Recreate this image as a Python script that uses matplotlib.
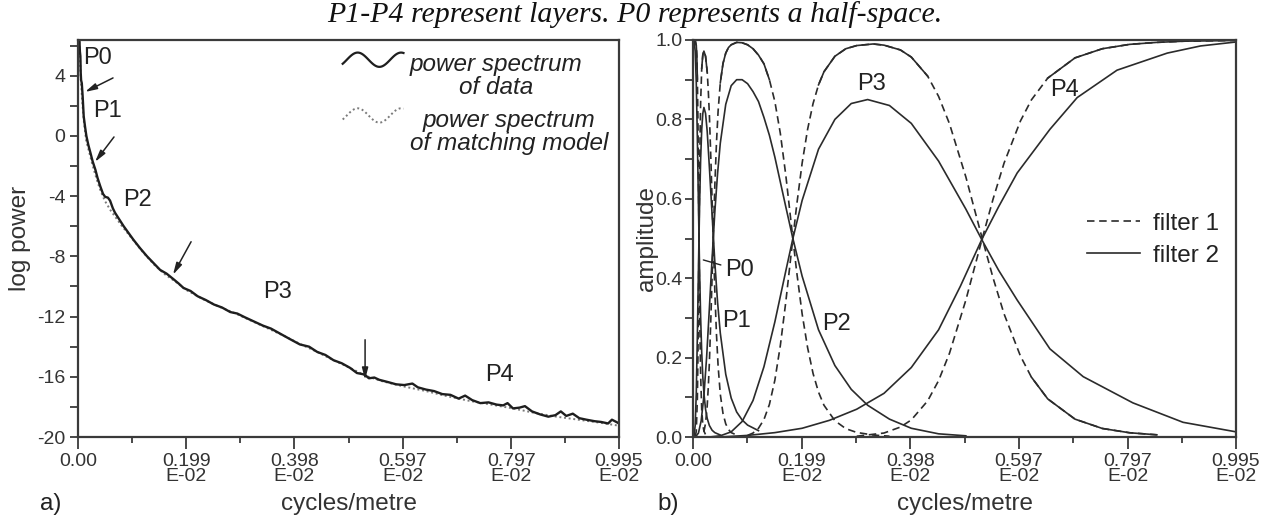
import numpy as np
import matplotlib
matplotlib.use('Agg')
import matplotlib.pyplot as plt
from matplotlib.legend_handler import HandlerBase
from matplotlib.lines import Line2D

plt.rcParams['font.family'] = ['Liberation Sans', 'DejaVu Sans']
plt.rcParams['axes.unicode_minus'] = False

# ---- x axis (cycles/metre, units of E-02) ----
xticks = [0.0, 0.199, 0.398, 0.597, 0.797, 0.995]
xticklabels = ['0.00', '0.199\nE-02', '0.398\nE-02', '0.597\nE-02', '0.797\nE-02', '0.995\nE-02']
xminor = [0.0995, 0.2985, 0.4975, 0.697, 0.896]

# ---- panel a: log power spectrum ----
x_data = [0.001, 0.0026, 0.0035, 0.0044, 0.005, 0.0057, 0.007, 0.0086, 0.0105, 0.013,
          0.0154, 0.019, 0.0227, 0.027, 0.032, 0.036, 0.041, 0.046, 0.050, 0.055,
          0.059, 0.064, 0.068, 0.076, 0.084, 0.093, 0.102, 0.114, 0.127, 0.139,
          0.151, 0.163, 0.175, 0.185, 0.194, 0.207, 0.22, 0.235, 0.25, 0.265,
          0.28, 0.293, 0.307, 0.322, 0.34, 0.355, 0.37, 0.39, 0.408, 0.425,
          0.44, 0.455, 0.47, 0.485, 0.50, 0.513, 0.527, 0.535, 0.545, 0.554,
          0.57, 0.585, 0.60, 0.615, 0.625, 0.64, 0.655, 0.67, 0.685, 0.70,
          0.712, 0.725, 0.74, 0.755, 0.77, 0.782, 0.79, 0.80, 0.812, 0.822,
          0.835, 0.85, 0.865, 0.878, 0.888, 0.898, 0.91, 0.922, 0.935, 0.95,
          0.962, 0.975, 0.982, 0.99, 0.995]
y_data = [7.5, 6.4, 5.6, 5.3, 4.2, 3.7, 3.5, 2.6, 1.3, 0.6,
          0.0, -0.6, -1.1, -1.7, -2.25, -2.8, -3.35, -3.85, -4.05, -4.1,
          -4.3, -4.8, -5.1, -5.55, -6.0, -6.45, -6.9, -7.45, -8.0, -8.45,
          -8.9, -9.15, -9.5, -9.8, -10.1, -10.3, -10.65, -10.9, -11.2, -11.4,
          -11.7, -11.8, -12.05, -12.3, -12.6, -12.8, -13.1, -13.5, -13.85, -14.0,
          -14.35, -14.55, -14.9, -15.1, -15.4, -15.75, -15.85, -16.1, -16.05, -16.2,
          -16.35, -16.5, -16.55, -16.45, -16.7, -16.85, -16.95, -17.15, -17.2, -17.45,
          -17.25, -17.55, -17.75, -17.7, -17.85, -17.9, -17.75, -18.1, -18.05, -17.95,
          -18.3, -18.5, -18.65, -18.55, -18.3, -18.6, -18.45, -18.75, -18.85, -18.95,
          -19.0, -19.1, -18.85, -19.0, -19.1]

x_model = [0.001, 0.003, 0.005, 0.008, 0.011, 0.015, 0.02, 0.025, 0.03, 0.035,
           0.04, 0.045, 0.05, 0.06, 0.07, 0.08, 0.09, 0.10, 0.12, 0.14,
           0.16, 0.18, 0.20, 0.23, 0.26, 0.29, 0.32, 0.35, 0.38, 0.41,
           0.44, 0.47, 0.50, 0.53, 0.56, 0.60, 0.64, 0.68, 0.72, 0.76,
           0.80, 0.84, 0.88, 0.92, 0.96, 0.995]
y_model = [7.5, 5.8, 3.9, 2.2, 0.9, -0.3, -1.0, -1.7, -2.35, -2.95,
           -3.5, -3.95, -4.35, -4.95, -5.45, -5.95, -6.4, -6.85, -7.75, -8.55,
           -9.2, -9.7, -10.25, -10.85, -11.35, -11.8, -12.3, -12.8, -13.3, -13.85,
           -14.35, -14.9, -15.4, -15.95, -16.3, -16.65, -16.95, -17.3, -17.6, -17.85,
           -18.1, -18.4, -18.65, -18.85, -19.05, -19.25]

# ---- panel b: filter amplitudes (filter 2 solid, filter 1 dashed) ----
p0_f2_x = [0, 0.002, 0.004, 0.006, 0.008, 0.010, 0.012, 0.014, 0.016, 0.018, 0.020, 0.023, 0.026, 0.030, 0.035, 0.040, 0.050]
p0_f2_y = [1.0, 0.997, 0.972, 0.893, 0.752, 0.583, 0.424, 0.301, 0.212, 0.151, 0.110, 0.070, 0.047, 0.029, 0.017, 0.011, 0.005]
p0_f1_x = [0, 0.004, 0.006, 0.007, 0.008, 0.009, 0.010, 0.011, 0.012, 0.013, 0.014, 0.016, 0.018, 0.020, 0.023, 0.026]
p0_f1_y = [1.0, 0.999, 0.986, 0.96, 0.902, 0.803, 0.661, 0.5, 0.352, 0.237, 0.156, 0.068, 0.031, 0.015, 0.006, 0.002]

p1_f2_x = [0.002, 0.004, 0.006, 0.008, 0.010, 0.012, 0.014, 0.016, 0.018, 0.020, 0.023, 0.026, 0.030, 0.035, 0.040, 0.045, 0.050, 0.060, 0.070, 0.080, 0.090, 0.100, 0.120]
p1_f2_y = [0.003, 0.029, 0.11, 0.255, 0.425, 0.58, 0.70, 0.775, 0.815, 0.83, 0.815, 0.77, 0.68, 0.56, 0.44, 0.34, 0.262, 0.158, 0.098, 0.063, 0.043, 0.03, 0.016]
p1_f1_x = [0.004, 0.006, 0.008, 0.009, 0.010, 0.011, 0.012, 0.013, 0.014, 0.016, 0.018, 0.020, 0.023, 0.026, 0.028, 0.030, 0.033, 0.035, 0.037, 0.040, 0.043, 0.046, 0.050, 0.055, 0.060, 0.065, 0.070, 0.080]
p1_f1_y = [0.001, 0.014, 0.098, 0.197, 0.339, 0.5, 0.648, 0.763, 0.843, 0.929, 0.963, 0.972, 0.959, 0.92, 0.873, 0.812, 0.69, 0.596, 0.5, 0.367, 0.259, 0.179, 0.108, 0.059, 0.033, 0.019, 0.011, 0.005]

p2_f2_x = [0.005, 0.010, 0.015, 0.020, 0.025, 0.030, 0.035, 0.040, 0.045, 0.050, 0.060, 0.070, 0.080, 0.090, 0.100, 0.110, 0.120, 0.130, 0.140, 0.150, 0.170, 0.183, 0.200, 0.230, 0.260, 0.290, 0.320, 0.360, 0.400, 0.450, 0.500]
p2_f2_y = [0.001, 0.01, 0.041, 0.104, 0.202, 0.324, 0.45, 0.567, 0.663, 0.74, 0.838, 0.885, 0.9, 0.9, 0.89, 0.87, 0.845, 0.805, 0.76, 0.705, 0.58, 0.5, 0.405, 0.27, 0.18, 0.12, 0.08, 0.045, 0.022, 0.008, 0.003]
p2_f1_x = [0.020, 0.023, 0.026, 0.028, 0.030, 0.033, 0.035, 0.037, 0.040, 0.043, 0.046, 0.050, 0.055, 0.060, 0.065, 0.070, 0.080, 0.090, 0.100, 0.110, 0.120, 0.130, 0.140, 0.150, 0.160, 0.170, 0.183, 0.190, 0.200, 0.210, 0.220, 0.230, 0.240, 0.260, 0.280, 0.300, 0.330, 0.360]
p2_f1_y = [0.013, 0.035, 0.078, 0.125, 0.187, 0.31, 0.404, 0.5, 0.633, 0.741, 0.821, 0.892, 0.941, 0.967, 0.981, 0.988, 0.994, 0.993, 0.988, 0.978, 0.962, 0.94, 0.9, 0.845, 0.765, 0.66, 0.5, 0.416, 0.31, 0.225, 0.16, 0.113, 0.08, 0.041, 0.021, 0.0115, 0.005, 0.002]

p3_f2_x = [0.03, 0.05, 0.07, 0.09, 0.11, 0.13, 0.15, 0.17, 0.183, 0.20, 0.23, 0.26, 0.29, 0.32, 0.36, 0.40, 0.45, 0.50, 0.53, 0.56, 0.594, 0.654, 0.715, 0.806, 0.898, 0.995]
p3_f2_y = [0.0, 0.003, 0.013, 0.039, 0.092, 0.177, 0.29, 0.418, 0.5, 0.596, 0.725, 0.80, 0.84, 0.85, 0.835, 0.79, 0.695, 0.574, 0.495, 0.42, 0.345, 0.222, 0.152, 0.086, 0.037, 0.013]
p3_f1_x = [0.10, 0.11, 0.12, 0.13, 0.14, 0.15, 0.16, 0.17, 0.183, 0.19, 0.20, 0.21, 0.22, 0.23, 0.24, 0.26, 0.28, 0.30, 0.33, 0.35, 0.38, 0.40, 0.43, 0.45, 0.47, 0.50, 0.53, 0.55, 0.57, 0.60, 0.62, 0.65, 0.70, 0.75, 0.80, 0.85]
p3_f1_y = [0.004, 0.01, 0.022, 0.044, 0.082, 0.143, 0.23, 0.34, 0.5, 0.584, 0.69, 0.775, 0.84, 0.887, 0.92, 0.959, 0.978, 0.986, 0.99, 0.987, 0.975, 0.957, 0.909, 0.858, 0.789, 0.655, 0.5, 0.40, 0.31, 0.204, 0.151, 0.096, 0.045, 0.0215, 0.0107, 0.0055]

p4_f2_x = [0.05, 0.10, 0.15, 0.20, 0.25, 0.30, 0.35, 0.40, 0.45, 0.49, 0.53, 0.56, 0.594, 0.654, 0.704, 0.777, 0.869, 0.93, 0.995]
p4_f2_y = [0.0, 0.004, 0.011, 0.022, 0.042, 0.07, 0.11, 0.175, 0.27, 0.38, 0.50, 0.58, 0.665, 0.775, 0.855, 0.924, 0.967, 0.985, 0.995]
p4_f1_x = [0.30, 0.35, 0.38, 0.40, 0.43, 0.45, 0.47, 0.50, 0.53, 0.55, 0.57, 0.60, 0.62, 0.65, 0.70, 0.75, 0.80, 0.85, 0.90, 0.995]
p4_f1_y = [0.002, 0.010, 0.025, 0.043, 0.091, 0.142, 0.211, 0.345, 0.5, 0.60, 0.69, 0.796, 0.849, 0.904, 0.955, 0.978, 0.989, 0.994, 0.997, 0.999]

filter2 = [(p0_f2_x, p0_f2_y), (p1_f2_x, p1_f2_y), (p2_f2_x, p2_f2_y), (p3_f2_x, p3_f2_y), (p4_f2_x, p4_f2_y)]
filter1 = [(p0_f1_x, p0_f1_y), (p1_f1_x, p1_f1_y), (p2_f1_x, p2_f1_y), (p3_f1_x, p3_f1_y), (p4_f1_x, p4_f1_y)]

INK = '#2b2b2b'
DASH = (4.5, 2.8)


class WaveHandler(HandlerBase):
    # wavy legend glyph, lifted to sit beside the first line of the label
    def __init__(self, dy=0.0):
        super().__init__()
        self.dy = dy

    def create_artists(self, legend, orig_handle, xdescent, ydescent, width, height, fontsize, trans):
        t = np.linspace(0, 1, 80)
        xs = -xdescent + width * t
        ys = -ydescent + height / 2 + self.dy + 0.42 * height * np.sin(2 * np.pi * 1.4 * t - 0.6)
        line = Line2D(xs, ys)
        self.update_prop(line, orig_handle, legend)
        line.set_transform(trans)
        return [line]


def style_axes(ax):
    for s in ax.spines.values():
        s.set_linewidth(1.6)
        s.set_color('#3a3a3a')
    ax.set_xlim(0, 0.995)
    ax.set_xticks(xticks)
    ax.set_xticklabels(xticklabels, fontsize=14, linespacing=0.85)
    ax.set_xticks(xminor, minor=True)
    ax.tick_params(axis='x', which='major', direction='out', length=8.5, width=1.3, pad=3, colors='#3a3a3a', labelcolor='#333')
    ax.tick_params(axis='x', which='minor', direction='out', length=4.5, width=1.3, colors='#3a3a3a')
    ax.tick_params(axis='y', which='both', direction='out', length=6, width=1.3, colors='#3a3a3a', labelcolor='#333', labelsize=14)
    ax.set_xlabel('cycles/metre', fontsize=17.5, color='#333')
    ax.xaxis.label.set_va('center')
    ax.xaxis.set_label_coords(0.5, -0.169)


fig = plt.figure(figsize=(12.69, 5.18), dpi=100)
axa = fig.add_axes([78 / 1269, 81 / 518, 541 / 1269, 397 / 518])
axb = fig.add_axes([693 / 1269, 81 / 518, 543 / 1269, 397 / 518])

# ---- panel a ----
axa.plot(x_model, y_model, color='#7a7a7a', lw=1.4, linestyle=(0, (1, 1.4)))
axa.plot(x_data, y_data, color='#1e1e1e', lw=1.7)
style_axes(axa)
axa.set_ylim(-20, 6.37)
axa.set_yticks([-20, -16, -12, -8, -4, 0, 4])
axa.set_yticks([-18, -14, -10, -6, -2, 2, 6], minor=True)
axa.tick_params(axis='y', pad=3)
axa.set_ylabel('log power', fontsize=17.5, color='#333')
axa.yaxis.label.set_va('center')
axa.yaxis.set_label_coords(-0.108, 0.5)

arrow = dict(arrowstyle='-|>,head_length=0.7,head_width=0.18', color='#222', lw=1.1, shrinkA=0, shrinkB=0)
axa.annotate('', xy=(0.0129, 2.92), xytext=(0.0644, 3.85), arrowprops=arrow)
axa.annotate('', xy=(0.0313, -1.73), xytext=(0.0662, -0.07), arrowprops=arrow)
axa.annotate('', xy=(0.1747, -9.22), xytext=(0.208, -7.03), arrowprops=arrow)
axa.annotate('', xy=(0.528, -16.2), xytext=(0.528, -13.54), arrowprops=arrow)
for lab, px, py in [('P0', 0.0086, 5.2), ('P1', 0.027, 1.66), ('P2', 0.083, -4.28),
                    ('P3', 0.34, -10.35), ('P4', 0.749, -15.9)]:
    axa.text(px, py, lab, fontsize=17, ha='left', va='center', color='#222')

ha = Line2D([], [], color='#1e1e1e', lw=1.6)
hm = Line2D([], [], color='#7a7a7a', lw=1.4, linestyle=(0, (1, 1.4)))
lega = axa.legend([ha, hm], ['power spectrum\nof data', 'power spectrum\nof matching model'],
                  handler_map={ha: WaveHandler(dy=12), hm: WaveHandler(dy=12)},
                  loc='upper left', bbox_to_anchor=(0.4713, 0.992), borderaxespad=0,
                  frameon=False, prop={'style': 'italic', 'size': 17.5},
                  handlelength=2.5, handletextpad=0.25, labelspacing=0.4)
for t in lega.get_texts():
    t.set_multialignment('center')
    t.set_linespacing(1.0)
    t.set_color('#222')

# ---- panel b ----
for xs, ys in filter2:
    axb.plot(xs, ys, color=INK, lw=1.2)
for xs, ys in filter1:
    xs = np.asarray(xs)
    ys = np.asarray(ys)
    axb.plot(xs, ys, color=INK, lw=1.2, dashes=DASH)
    # the original draws the flat crest and the far tail unbroken
    flat = (ys >= 0.88) | ((ys <= 0.175) & (xs > 0.55))
    axb.plot(xs, np.where(flat, ys, np.nan), color=INK, lw=1.2)
style_axes(axb)
axb.set_ylim(0, 1.0)
axb.set_yticks([0.0, 0.2, 0.4, 0.6, 0.8, 1.0])
axb.set_yticklabels(['0.0', '0.2', '0.4', '0.6', '0.8', '1.0'])
axb.set_yticks([0.1, 0.3, 0.5, 0.7, 0.9], minor=True)
axb.tick_params(axis='y', pad=1.5)
axb.set_ylabel('amplitude', fontsize=17.5, color='#333')
axb.yaxis.label.set_va('center')
axb.yaxis.set_label_coords(-0.085, 0.5)

for lab, px, py in [('P1', 0.053, 0.292), ('P2', 0.236, 0.285), ('P3', 0.3005, 0.89), ('P4', 0.654, 0.873)]:
    axb.text(px, py, lab, fontsize=17, ha='left', va='center', color='#222')
axb.annotate('P0', xy=(0.0189, 0.446), xytext=(0.0586, 0.42), fontsize=17, ha='left', va='center',
             color='#222', arrowprops=dict(arrowstyle='-', color='#222', lw=1.0, shrinkA=1, shrinkB=0))

h1 = Line2D([], [], color=INK, lw=1.2, dashes=DASH)
h2 = Line2D([], [], color=INK, lw=1.2)
legb = axb.legend([h1, h2], ['filter 1', 'filter 2'], loc='upper left', bbox_to_anchor=(0.707, 0.59),
                  borderaxespad=0, frameon=False, fontsize=17.5, handlelength=2.2,
                  handletextpad=0.55, labelspacing=0.42)
for t in legb.get_texts():
    t.set_color('#222')

fig.text(0.5, 1 - 22 / 518, 'P1-P4 represent layers. P0 represents a half-space.', ha='center', va='baseline',
         fontsize=21.5, fontstyle='italic', family=['Liberation Serif', 'DejaVu Serif'], color='#111')
fig.text(40 / 1269, 1 - 504 / 518, 'a)', fontsize=17.5, ha='left', va='center', color='#222')
fig.text(657 / 1269, 1 - 504 / 518, 'b)', fontsize=17.5, ha='left', va='center', color='#222')

fig.savefig('out.png', dpi=100, facecolor='white')
